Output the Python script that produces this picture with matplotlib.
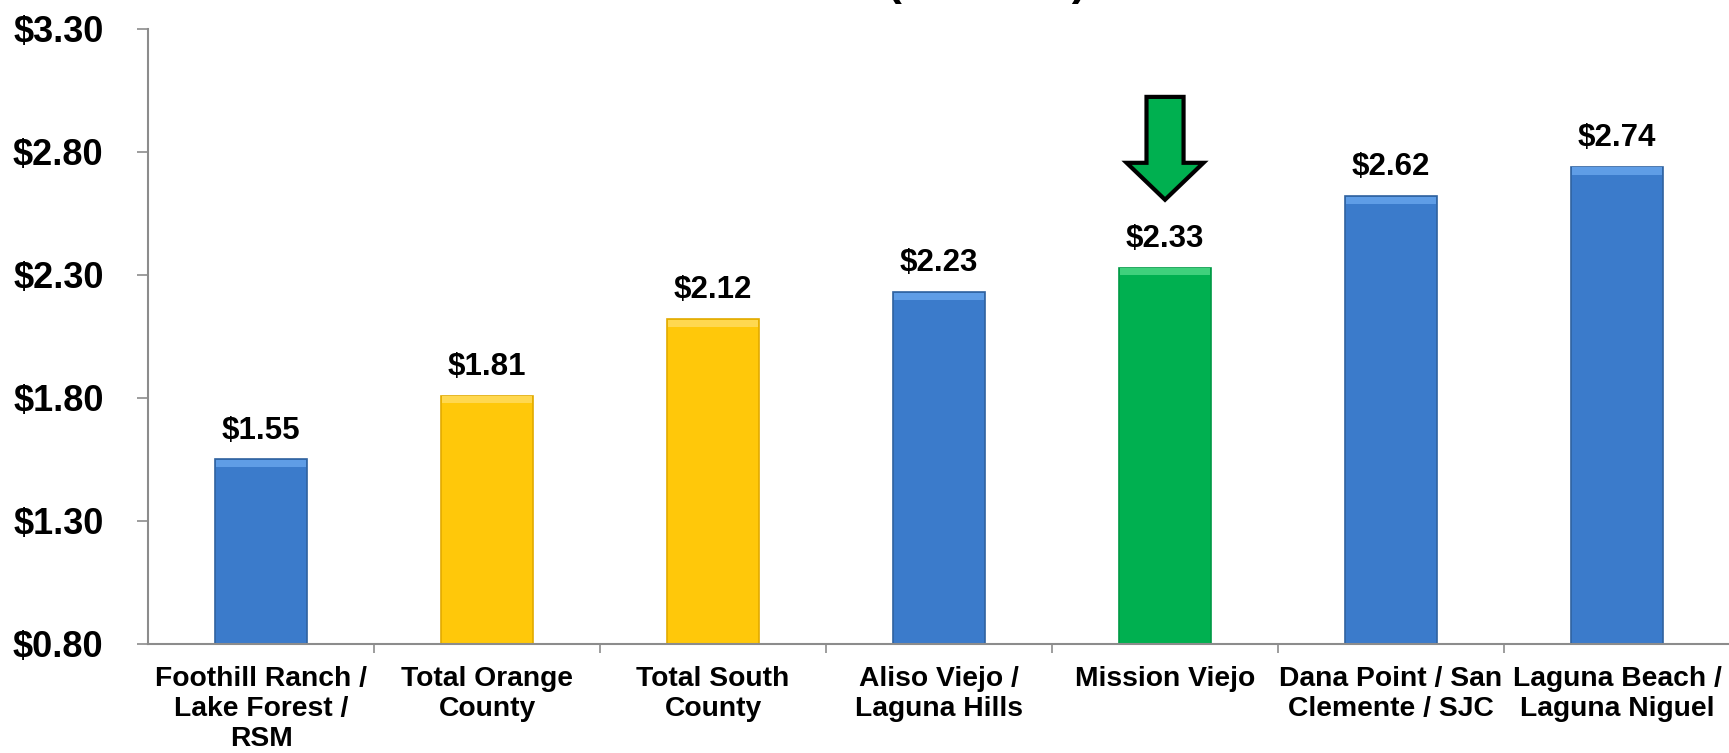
import matplotlib.pyplot as plt
from matplotlib.patches import Polygon
from matplotlib.ticker import FixedLocator

plt.rcParams['font.family'] = ['Liberation Sans', 'DejaVu Sans']
plt.rcParams['font.weight'] = 'bold'

# Данные
categories = ['Foothill Ranch /\nLake Forest /\nRSM', 'Total Orange\nCounty', 'Total South\nCounty',
              'Aliso Viejo /\nLaguna Hills', 'Mission Viejo', 'Dana Point / San\nClemente / SJC',
              'Laguna Beach /\nLaguna Niguel']
rents = [1.55, 1.81, 2.12, 2.23, 2.33, 2.62, 2.74]
groups = ['area', 'total', 'total', 'area', 'mv', 'area', 'area']
y_ticks = [0.80, 1.30, 1.80, 2.30, 2.80, 3.30]

fill = {'area': '#3b7bcb', 'total': '#ffc80a', 'mv': '#00b050'}
edge = {'area': '#30629f', 'total': '#e2aa00', 'mv': '#009a45'}
light = {'area': '#5f9de6', 'total': '#ffd850', 'mv': '#3fd07c'}

fig = plt.figure(figsize=(17.29, 7.53), dpi=100)
ax = fig.add_axes([0.0856, 0.1448, 0.915, 0.8167])

x = list(range(len(rents)))
bottom = y_ticks[0]
heights = [v - bottom for v in rents]
ax.bar(x, heights, bottom=bottom, width=0.41,
       color=[fill[g] for g in groups], edgecolor=[edge[g] for g in groups], linewidth=1.2, zorder=2)
# светлая фаска сверху столбца
ax.bar(x, [0.03] * len(rents), bottom=[v - 0.032 for v in rents], width=0.395,
       color=[light[g] for g in groups], linewidth=0, zorder=3)

for xi, v in zip(x, rents):
    ax.annotate(f'${v:.2f}', (xi, v), xytext=(0, 15), textcoords='offset points',
                ha='center', va='baseline', fontsize=22.5, fontweight='bold')

# стрелка над Mission Viejo
mv = groups.index('mv')
sw, hw = 0.082, 0.17
arrow = Polygon([(mv - sw, 3.024), (mv + sw, 3.024), (mv + sw, 2.756), (mv + hw, 2.756),
                 (mv, 2.606), (mv - hw, 2.756), (mv - sw, 2.756)], closed=True,
                facecolor='#00b050', edgecolor='black', linewidth=3, joinstyle='miter', zorder=4)
ax.add_patch(arrow)

ax.set_xlim(-0.5, len(rents) - 0.5)
ax.set_ylim(y_ticks[0], y_ticks[-1])
ax.set_yticks(y_ticks)
ax.set_yticklabels([f'${t:.2f}' for t in y_ticks], fontsize=26, fontweight='bold')
ax.set_xticks(x)
ax.set_xticklabels(categories, fontsize=20.3, fontweight='bold', linespacing=1.2)
ax.xaxis.set_minor_locator(FixedLocator([i + 0.5 for i in range(len(rents) - 1)]))

ax.tick_params(axis='x', which='major', length=0, pad=16)
ax.tick_params(axis='x', which='minor', length=6.5, width=1.2, color='#8c8c8c')
ax.tick_params(axis='y', length=8, width=1.2, color='#8c8c8c', pad=24)

for side in ['top', 'right']:
    ax.spines[side].set_visible(False)
for side in ['left', 'bottom']:
    ax.spines[side].set_color('#8c8c8c')
    ax.spines[side].set_linewidth(1.5)

fig.text(0.571, 1.006, '($/SF/Mo)', ha='center', va='baseline', fontsize=32, fontweight='bold')

fig.savefig('out.png', dpi=100)
